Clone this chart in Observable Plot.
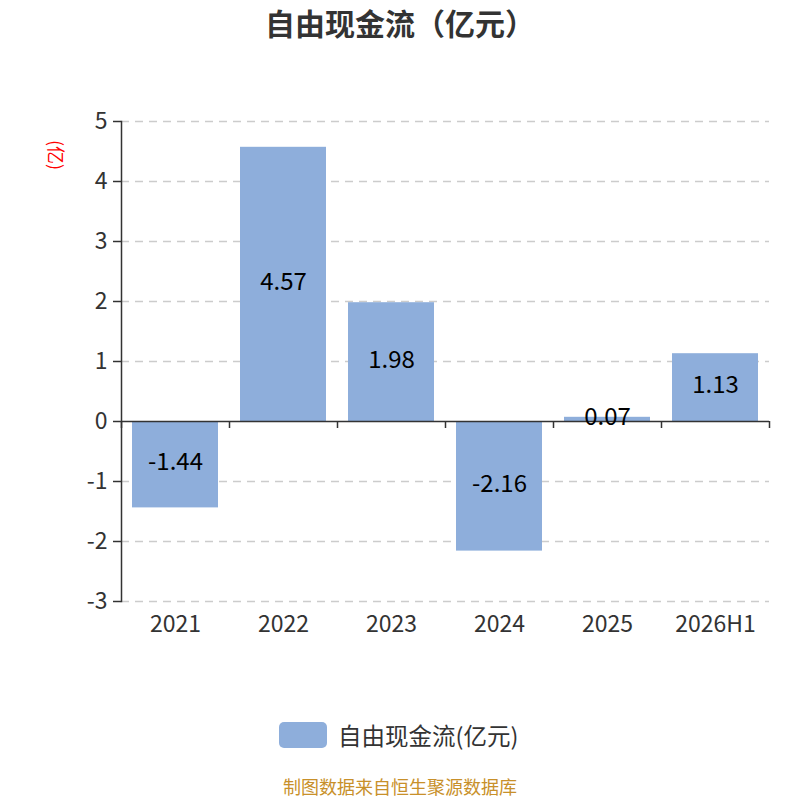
<!DOCTYPE html>
<html><head><meta charset="utf-8">
<script src="https://cdn.jsdelivr.net/npm/d3@7"></script>
<script src="https://cdn.jsdelivr.net/npm/@observablehq/plot@0.6"></script>
<style>
body{margin:0;background:#fff;font-family:"Noto Sans CJK SC","Noto Sans",sans-serif;}
#wrap{position:relative;width:800px;height:800px;overflow:hidden;}
#title{position:absolute;left:0;top:2px;width:800px;text-align:center;font-size:30px;font-weight:bold;color:#333;line-height:40px;}
#ylab{position:absolute;left:42px;top:143px;font-size:18px;color:#f00;transform:rotate(90deg);transform-origin:center;line-height:24px;}
#legend{position:absolute;left:279px;top:720px;display:flex;align-items:center;font-size:23.5px;color:#333;line-height:30px;}
#legend span.sw{display:inline-block;width:48px;height:26px;border-radius:5px;background:#8eaedb;margin-right:11px;}
#cap{position:absolute;left:0;top:775px;width:800px;text-align:center;font-size:18px;color:#c8902a;line-height:22px;}
#chart{position:absolute;left:0;top:0;}
</style></head>
<body><div id="wrap">
<div id="chart"></div>
<div id="title">自由现金流（亿元）</div>
<div id="ylab">(亿)</div>
<div id="legend"><span class="sw"></span>自由现金流(亿元)</div>
<div id="cap">制图数据来自恒生聚源数据库</div>
</div>
<script>
const categories = ["2021","2022","2023","2024","2025","2026H1"];
const values = [-1.44, 4.57, 1.98, -2.16, 0.07, 1.13];
const labels = ["-1.44","4.57","1.98","-2.16","0.07","1.13"];
const yTicks = [-3,-2,-1,0,1,2,3,4,5];
const data = categories.map((c,i)=>({cat:c, v:values[i], label:labels[i]}));

const plot = Plot.plot({
  width: 800, height: 800,
  marginTop: 121, marginBottom: 199, marginLeft: 121, marginRight: 31,
  style: {fontFamily: '"Noto Sans CJK SC","Noto Sans",sans-serif', background: "transparent"},
  x: {domain: categories, paddingInner: 0.2, paddingOuter: 0.1, label: null},
  y: {domain: [-3, 5], label: null},
  marks: [
    Plot.ruleY(yTicks.filter(t => t !== 0), {stroke: "#ccc", strokeWidth: 1.5, strokeDasharray: "8,6"}),
    Plot.barY(data, {x: "cat", y: "v", fill: "#8eaedb"}),
    Plot.ruleY([0], {stroke: "#333", strokeWidth: 1.5}),
    Plot.ruleX(categories, {x: d => d, dx: 54, y1: 0, y2: 0, insetBottom: -7, stroke: "#333", strokeWidth: 1.5}),
    Plot.ruleX(categories.slice(0,1), {x: d => d, dx: -54, y1: 0, y2: 0, insetBottom: -7, stroke: "#333", strokeWidth: 1.5}),
    Plot.frame({anchor: "left", stroke: "#333", strokeWidth: 1.5}),
    Plot.axisY({ticks: yTicks, tickSize: 8, tickPadding: 6, fontSize: 23, tickFormat: d => String(d), stroke: "#333", fill: "#333", strokeWidth: 1.5, label: null}),
    Plot.axisX({tickSize: 0, tickPadding: 14, fontSize: 23, fill: "#333", label: null}),
    Plot.text(data, {x: "cat", y: d => d.v / 2, text: "label", fontSize: 24, dy: -2, fill: "#000"})
  ]
});
document.getElementById("chart").appendChild(plot);
</script>
</body></html>
